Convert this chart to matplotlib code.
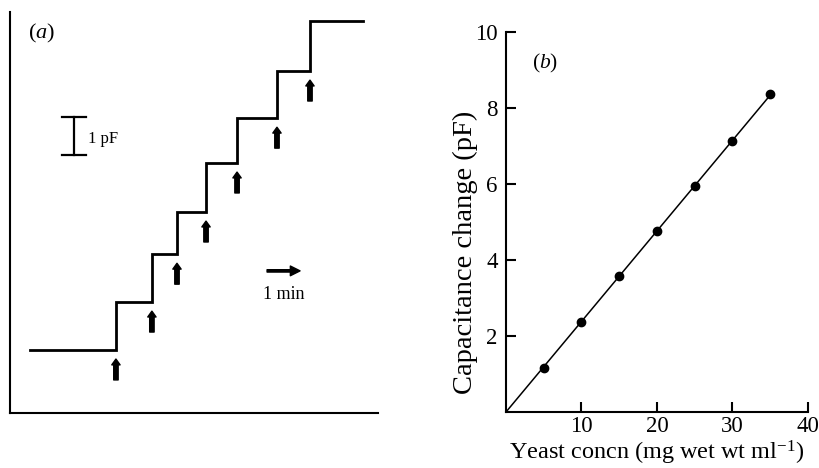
import numpy as np
import matplotlib
matplotlib.use("Agg")
import matplotlib.pyplot as plt

plt.rcParams['font.family'] = ['Liberation Serif', 'DejaVu Serif']
plt.rcParams['mathtext.fontset'] = 'custom'
plt.rcParams['mathtext.rm'] = 'Liberation Serif'
plt.rcParams['mathtext.it'] = 'Liberation Serif:italic'

# ---- Panel (a): capacitance trace (time in min, capacitance in pF) ----
trace_start = 0.61
trace_end = 10.70
step_times = [3.21, 4.30, 5.06, 5.94, 6.88, 8.09, 9.09]
levels = [1.66, 2.92, 4.18, 5.29, 6.58, 7.76, 9.00, 10.32]

# ---- Panel (b): capacitance change vs yeast concentration ----
yeast_conc = [5, 10, 15, 20, 25, 30, 35]
cap_change = [1.16, 2.37, 3.58, 4.76, 5.95, 7.13, 8.37]
x_ticks = [10, 20, 30, 40]
y_ticks = [2, 4, 6, 8, 10]

fig = plt.figure(figsize=(8.2, 4.68), dpi=100)

# Panel (a)
axa = fig.add_axes([10/820, 1-413/468, 368/820, 401/468])
axa.set_xlim(0, 368/33)
axa.set_ylim(0, 401/38)
for s in ['top', 'right']:
    axa.spines[s].set_visible(False)
for s in ['left', 'bottom']:
    axa.spines[s].set_linewidth(1.5)
axa.set_xticks([])
axa.set_yticks([])

xs = [trace_start] + step_times + [trace_end]
ys = levels + [levels[-1]]
axa.step(xs, ys, where='post', color='black', lw=2.0, solid_joinstyle='miter')

for t, lv in zip(step_times, levels[:-1]):
    top = lv - 0.24
    axa.annotate('', xy=(t, top), xytext=(t, top - 0.55),
                 arrowprops=dict(width=3.2, headwidth=6.0, headlength=4.2,
                                 facecolor='black', edgecolor='black', shrink=0))

# 1 pF scale bar
sb_x = 1.94
sb_y0 = 6.79
axa.plot([sb_x, sb_x], [sb_y0, sb_y0 + 1], color='black', lw=1.6)
axa.plot([sb_x - 0.36, sb_x + 0.36], [sb_y0, sb_y0], color='black', lw=1.6)
axa.plot([sb_x - 0.36, sb_x + 0.36], [sb_y0 + 1, sb_y0 + 1], color='black', lw=1.6)
axa.text(sb_x + 0.42, sb_y0 + 0.42, '1 pF', fontsize=12, va='center', ha='left')

# 1 min arrow
axa.annotate('', xy=(8.79, 3.74), xytext=(7.79, 3.74),
             arrowprops=dict(width=1.7, headwidth=7, headlength=7,
                             facecolor='black', edgecolor='black', shrink=0))
axa.text(8.3, 3.13, '1 min', fontsize=13, ha='center', va='center')

axa.text(0.049, 0.9476, r'($\mathit{a}$)', transform=axa.transAxes,
         fontsize=16, ha='left', va='center')

# Panel (b)
axb = fig.add_axes([506/820, 1-412/468, 302/820, 380/468])
axb.set_xlim(0, 40)
axb.set_ylim(0, 10)
for s in ['top', 'right']:
    axb.spines[s].set_visible(False)
for s in ['left', 'bottom']:
    axb.spines[s].set_linewidth(1.5)

xarr = np.array(yeast_conc, dtype=float)
yarr = np.array(cap_change, dtype=float)
slope = np.sum(xarr * yarr) / np.sum(xarr * xarr)
axb.plot([0, xarr.max()], [0, slope * xarr.max()], color='black', lw=1.1)
axb.plot(xarr, yarr, 'o', color='black', markersize=6)

axb.set_xticks(x_ticks)
axb.set_yticks(y_ticks)
axb.tick_params(direction='in', length=7, width=1.5, labelsize=16.5)
axb.tick_params(axis='x', pad=3)
axb.tick_params(axis='y', pad=6)

axb.set_ylabel('Capacitance change (pF)', fontsize=20.5)
axb.yaxis.set_label_coords(-0.093, 0.42)
axb.set_xlabel(r'Yeast concn (mg wet wt ml$^{-1}$)', fontsize=17.5, va='top')
axb.xaxis.set_label_coords(0.497, -0.071)

axb.text(0.086, 0.918, r'($\mathit{b}$)', transform=axb.transAxes,
         fontsize=15.5, ha='left', va='center')

fig.savefig('out.png', dpi=100)
